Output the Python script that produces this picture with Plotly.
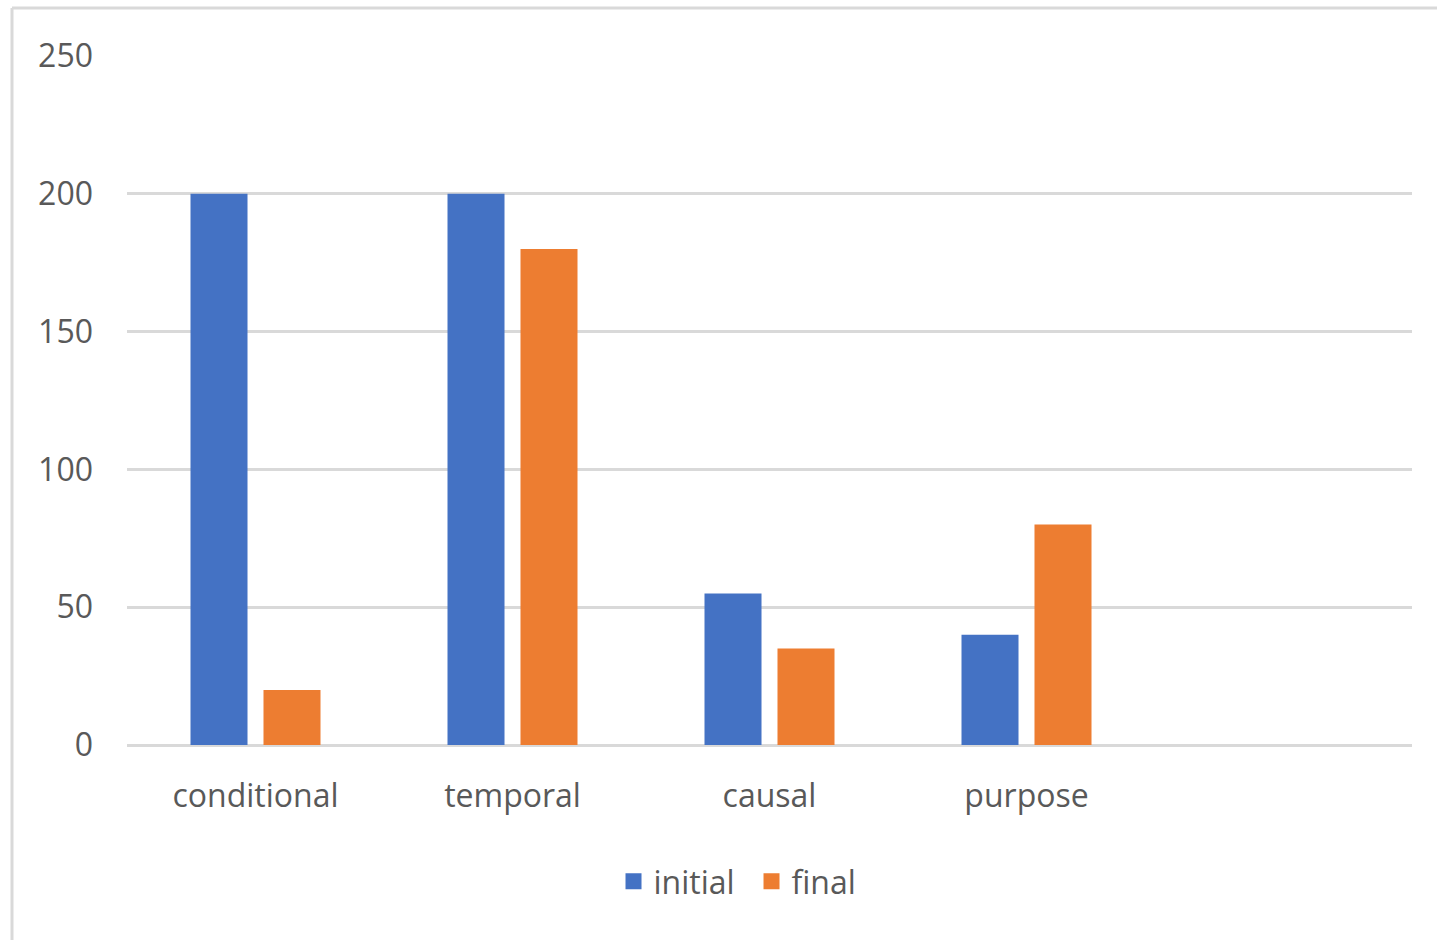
import plotly.graph_objects as go

categories = ["conditional", "temporal", "causal", "purpose"]
initial = [200, 200, 55, 40]
final = [20, 180, 35, 80]
y_ticks = [0, 50, 100, 150, 200, 250]
series_names = ["initial", "final"]
series_colors = ["#4472C4", "#ED7D31"]

W, H = 1437, 940
ML, MR, MT, MB = 127, 25, 56, 195

xpos = list(range(len(categories)))

fig = go.Figure()
for name, vals, col in zip(series_names, [initial, final], series_colors):
    fig.add_trace(go.Bar(x=xpos, y=vals, name=name, showlegend=False,
                         marker=dict(color=col, line=dict(width=0))))
# legend entries with larger square keys
for name, col in zip(series_names, series_colors):
    fig.add_trace(go.Scatter(x=[None], y=[None], mode="markers", name=name,
                             marker=dict(symbol="square", size=16, color=col)))

fig.update_layout(
    width=W, height=H,
    margin=dict(l=ML, r=MR, t=MT, b=MB, pad=0),
    paper_bgcolor="white", plot_bgcolor="white",
    barmode="group", bargap=0.432, bargroupgap=0.219,
    font=dict(family="Open Sans", size=32, color="#595959"),
    showlegend=True,
    legend=dict(orientation="h", x=0.486, xanchor="center", y=-0.198, yanchor="middle",
                font=dict(size=32, color="#595959"), tracegroupgap=0,
                entrywidth=93, entrywidthmode="pixels"),
    xaxis=dict(range=[-0.5, 4.5], tickmode="array", tickvals=xpos, ticktext=categories,
               showgrid=False, zeroline=False, showline=False, ticks="", ticklabelstandoff=29),
    yaxis=dict(range=[0, 250], tickmode="array", tickvals=y_ticks, showgrid=True,
               gridcolor="#d9d9d9", gridwidth=2.5, zeroline=True, zerolinecolor="#d9d9d9",
               zerolinewidth=2.5, showline=False, ticks="", ticklabelstandoff=33),
)

# chart area border (top and left edges)
bw = 3
fig.add_shape(type="line", xref="paper", yref="paper",
              x0=(12 - ML) / (W - ML - MR), x1=(W + 10 - ML) / (W - ML - MR),
              y0=(H - MB - 8) / (H - MT - MB), y1=(H - MB - 8) / (H - MT - MB),
              line=dict(color="#d9d9d9", width=bw))
fig.add_shape(type="line", xref="paper", yref="paper",
              x0=(12 - ML) / (W - ML - MR), x1=(12 - ML) / (W - ML - MR),
              y0=(H - MB - 8) / (H - MT - MB), y1=(H - MB - H - 10) / (H - MT - MB),
              line=dict(color="#d9d9d9", width=bw))

fig.write_html("out.html")
